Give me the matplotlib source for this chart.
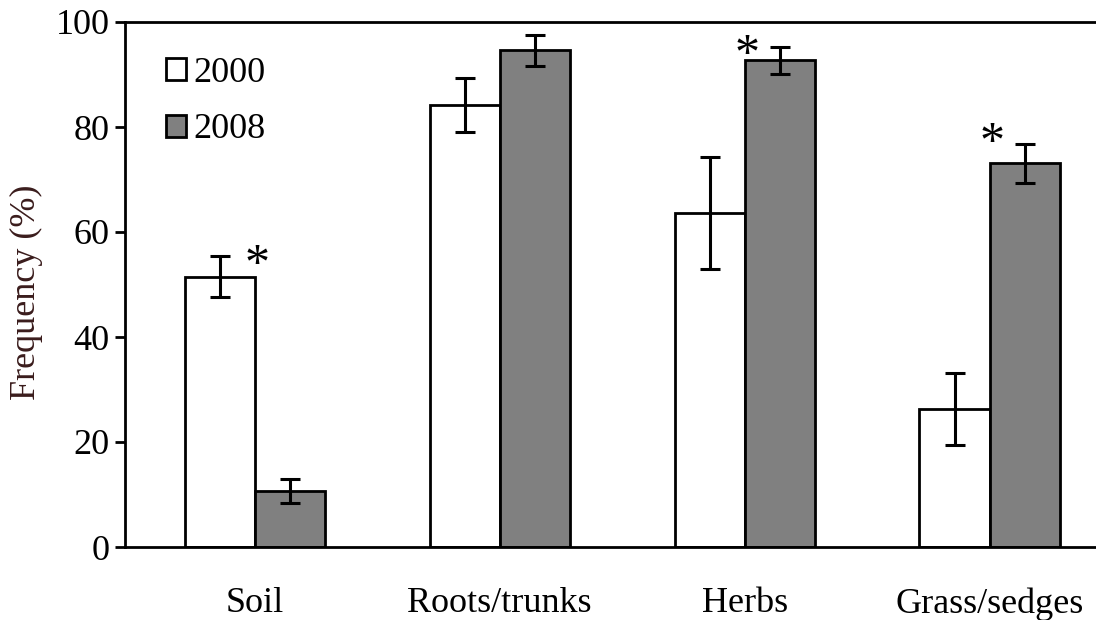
import numpy as np
import matplotlib
matplotlib.use("Agg")
import matplotlib.pyplot as plt
from matplotlib.patches import Patch

# values
categories = ["Soil", "Roots/trunks", "Herbs", "Grass/sedges"]
years = ["2000", "2008"]
freq_2000 = [51.5, 84.2, 63.6, 26.3]
err_2000 = [3.9, 5.2, 10.7, 6.9]
freq_2008 = [10.6, 94.6, 92.7, 73.1]
err_2008 = [2.3, 2.9, 2.6, 3.7]
# asterisks: (category index, height)
stars = [(0, 55.6), (2, 95.6), (3, 78.9)]

plt.rcParams["font.family"] = ["Liberation Serif", "DejaVu Serif"]

W, H = 1096, 620
fig = plt.figure(figsize=(W / 100, H / 100), dpi=100)
left, right, top, bottom = 125, 1112, 22, 547
ax = fig.add_axes([left / W, (H - bottom) / H, (right - left) / W, (bottom - top) / H])

x = np.arange(len(categories))
bw = 0.286
lw = 2.0
fs = 26
ax.bar(x - bw / 2, freq_2000, bw, color="white", edgecolor="black", linewidth=lw, zorder=2)
ax.bar(x + bw / 2, freq_2008, bw, color="#808080", edgecolor="black", linewidth=lw, zorder=2)
ax.errorbar(x - bw / 2, freq_2000, yerr=err_2000, fmt="none", ecolor="black",
            elinewidth=2.2, capsize=7, capthick=2.2, zorder=3)
ax.errorbar(x + bw / 2, freq_2008, yerr=err_2008, fmt="none", ecolor="black",
            elinewidth=2.2, capsize=7, capthick=2.2, zorder=3)

for i, h in stars:
    ax.text(i + 0.01, h - 2.0, "*", ha="center", va="center", fontsize=36, zorder=4)

ax.set_xlim(-0.53, 3.5)
ax.set_ylim(0, 100)
ax.set_yticks([0, 20, 40, 60, 80, 100])
ax.set_xticks(x)
ax.set_xticklabels(categories)
ax.tick_params(axis="x", length=0, pad=29, labelsize=fs)
ax.tick_params(axis="y", direction="out", length=7, width=lw, pad=4, labelsize=fs)
for s in ["left", "bottom", "top"]:
    ax.spines[s].set_linewidth(lw)
ax.spines["right"].set_visible(False)
ax.set_ylabel("Frequency (%)", fontsize=fs, color="#3a1c1c", labelpad=8)
ax.yaxis.set_label_coords(-0.083, 0.485)

handles = [Patch(facecolor="white", edgecolor="black", linewidth=lw),
           Patch(facecolor="#808080", edgecolor="black", linewidth=lw)]
ax.legend(handles, years, loc="upper left", bbox_to_anchor=(166 / W, 1 - 57 / H),
          bbox_transform=fig.transFigure, frameon=False, fontsize=fs,
          handlelength=0.55, handleheight=0.55, handletextpad=0.2,
          labelspacing=0.65, borderpad=0, borderaxespad=0)

fig.savefig("out.png", dpi=100)
